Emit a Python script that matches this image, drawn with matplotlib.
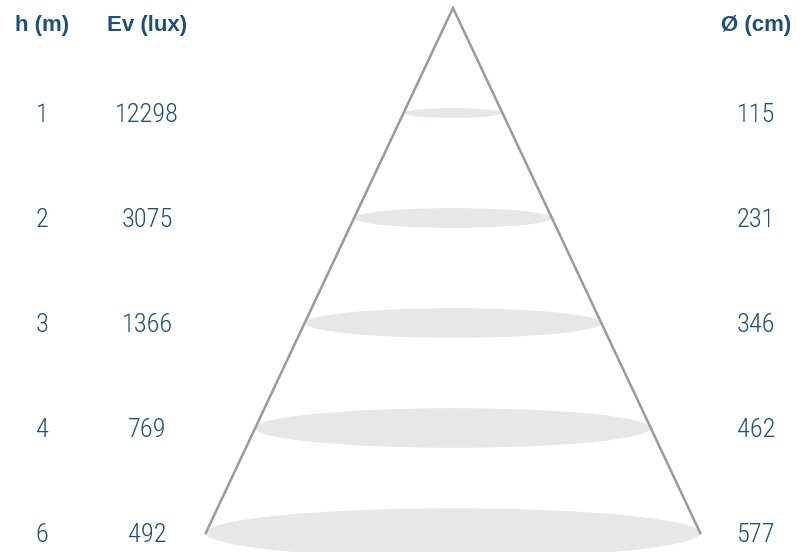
import matplotlib.pyplot as plt
from matplotlib.patches import Ellipse

# photometric table
heights = ["1", "2", "3", "4", "6"]
lux = ["12298", "3075", "1366", "769", "492"]
diameters = [115, 231, 346, 462, 577]
headers = ["h (m)", "Ev (lux)", "Ø (cm)"]

blue = "#1d4f7c"
narrow = ["Liberation Sans Narrow", "Roboto Condensed", "DejaVu Sans"]

fig = plt.figure(figsize=(8.07, 5.52), dpi=100)
ax = fig.add_axes([0, 0, 1, 1])
ax.set_xlim(0, 807)
ax.set_ylim(552, 0)
ax.axis("off")

cx = 453
row_y = [113 + 105 * i for i in range(len(heights))]
scale = 0.857  # px per cm of beam diameter

# light spots
for y, d in zip(row_y, diameters):
    w = d * scale
    ax.add_patch(Ellipse((cx, y), w, w * 0.1, color="#e6e7e9", lw=0, zorder=1))

# beam cone
half_base = diameters[-1] * scale / 2
ax.plot([cx - half_base, cx, cx + half_base], [row_y[-1], 8, row_y[-1]],
        color="#9a9a9a", lw=1.8, zorder=2, solid_joinstyle="miter")

# headers
for x, t in zip([42, 147, 756], headers):
    ax.text(x, 26, t, ha="center", va="center", fontsize=16,
            fontweight="bold", color=blue, family=["Liberation Sans", "DejaVu Sans"])

# table values
for y, h, e, d in zip(row_y, heights, lux, diameters):
    for x, t in zip([42, 147, 756], [h, e, str(d)]):
        ax.text(x, y + 2, t, ha="center", va="center", fontsize=19,
                fontweight="light", color=blue, family=narrow)

plt.savefig("out.png", dpi=100)
